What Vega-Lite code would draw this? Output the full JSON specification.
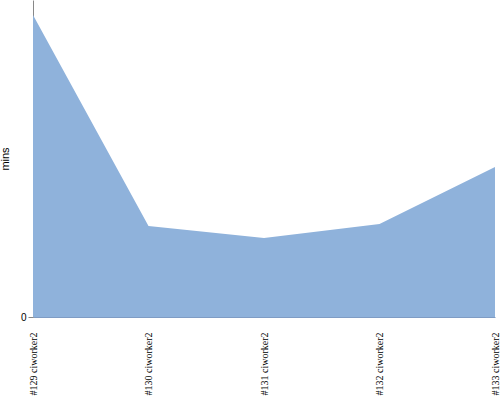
{
  "$schema": "https://vega.github.io/schema/vega-lite/v6.json",
  "autosize": "none",
  "width": 462,
  "height": 317,
  "padding": {"left": 33, "top": 0, "right": 5, "bottom": 83},
  "config": {"view": {"stroke": null}},
  "data": {"values": [
    {"build": "#129 ciworker2", "mins": 95.3},
    {"build": "#130 ciworker2", "mins": 28.7},
    {"build": "#131 ciworker2", "mins": 24.9},
    {"build": "#132 ciworker2", "mins": 29.3},
    {"build": "#133 ciworker2", "mins": 47.3}
  ]},
  "mark": {"type": "area", "color": "#8fb2db", "opacity": 1},
  "encoding": {
    "x": {"field": "build", "type": "ordinal", "scale": {"type": "point", "padding": 0}, "axis": {"title": null, "labelAngle": -90, "labelFont": "Liberation Sans Narrow", "labelFontSize": 10, "labelColor": "#000", "ticks": false, "domain": true, "domainColor": "#7f9cc4", "labelPadding": 15, "grid": false}},
    "y": {"field": "mins", "type": "quantitative", "scale": {"domain": [0, 100], "nice": false}, "axis": {"values": [0], "title": "mins", "titleFont": "Liberation Sans", "titleFontWeight": "normal", "titleFontSize": 11, "titleColor": "#000", "titlePadding": 10, "labelFont": "Liberation Sans", "labelFontSize": 10, "labelColor": "#000", "grid": false, "domainColor": "#888", "tickColor": "#888"}}
  }
}
